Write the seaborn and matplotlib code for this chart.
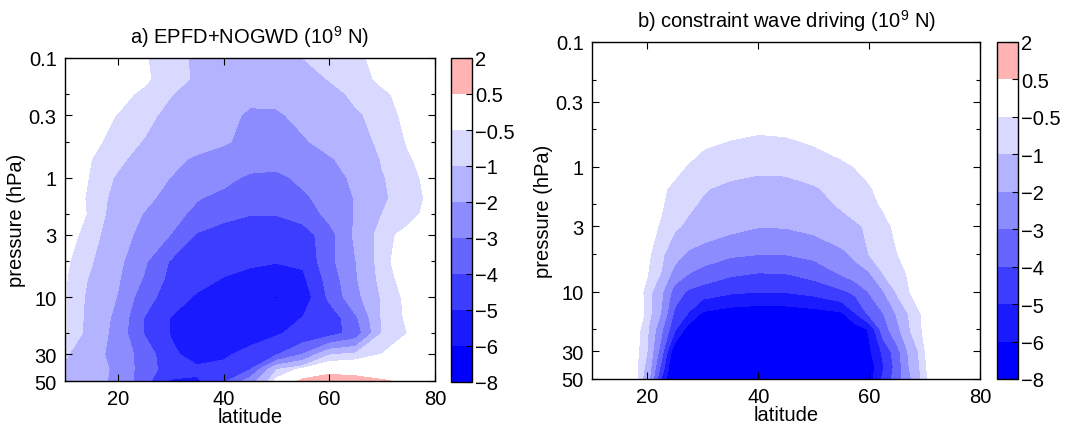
import numpy as np
import matplotlib
matplotlib.use("Agg")
import matplotlib.pyplot as plt
import seaborn as sns
from matplotlib.colors import ListedColormap, BoundaryNorm
from matplotlib.ticker import FixedLocator, FixedFormatter, NullFormatter

# ---------------- data ----------------
PRESSURE = [0.1, 0.15, 0.2, 0.3, 0.5, 0.7, 1, 1.5, 2, 3, 5, 7, 10, 15, 20, 30, 40, 50]

LAT_A = [10, 15, 20, 25, 30, 35, 40, 45, 50, 55, 60, 65, 70, 75, 80]
EPFD_NOGWD = [
    [0.00, -0.10, -0.25, -0.45, -0.80, -1.10, -1.35, -1.45, -1.30, -1.00, -0.85, -0.60, -0.35, -0.15, -0.05],
    [0.00, -0.10, -0.25, -0.42, -0.75, -1.10, -1.40, -1.60, -1.55, -1.30, -0.97, -0.70, -0.40, -0.20, -0.05],
    [-0.05, -0.15, -0.35, -0.60, -0.97, -1.30, -1.65, -1.85, -1.80, -1.60, -1.25, -0.85, -0.60, -0.30, -0.10],
    [-0.10, -0.30, -0.52, -0.80, -1.20, -1.50, -1.80, -2.10, -2.10, -1.80, -1.50, -1.10, -0.75, -0.35, -0.15],
    [-0.20, -0.40, -0.65, -1.05, -1.40, -1.65, -1.90, -2.25, -2.40, -2.10, -1.70, -1.30, -0.85, -0.45, -0.20],
    [-0.30, -0.50, -0.85, -1.30, -1.75, -2.15, -2.40, -2.60, -2.70, -2.50, -2.10, -1.60, -0.95, -0.55, -0.25],
    [-0.35, -0.52, -1.10, -1.55, -2.02, -2.40, -2.75, -3.15, -3.20, -2.80, -2.30, -1.85, -1.05, -0.65, -0.30],
    [-0.35, -0.55, -1.30, -1.80, -2.30, -2.95, -3.30, -3.55, -3.60, -3.20, -2.60, -1.95, -1.10, -0.70, -0.35],
    [-0.30, -0.55, -1.40, -2.05, -2.65, -3.25, -3.70, -3.95, -3.95, -3.60, -2.70, -1.95, -1.00, -0.65, -0.30],
    [-0.30, -0.70, -1.60, -2.30, -3.02, -4.10, -4.50, -4.70, -4.70, -4.50, -3.40, -1.80, -0.65, -0.35, -0.20],
    [-0.40, -0.95, -1.75, -2.85, -4.10, -4.50, -4.70, -4.85, -4.95, -4.85, -3.30, -2.02, -0.60, -0.30, -0.20],
    [-0.45, -1.10, -1.90, -3.10, -4.30, -4.65, -5.05, -5.30, -5.50, -5.20, -3.60, -2.10, -0.70, -0.30, -0.20],
    [-0.45, -1.20, -2.05, -3.60, -4.50, -5.15, -5.50, -5.80, -6.03, -5.60, -3.80, -2.30, -0.90, -0.35, -0.20],
    [-0.45, -1.25, -2.30, -4.05, -5.05, -5.50, -5.70, -5.75, -5.60, -4.95, -4.70, -3.20, -0.90, -0.40, -0.20],
    [-0.45, -1.30, -2.40, -4.05, -5.05, -5.60, -5.70, -5.50, -5.10, -4.70, -4.40, -3.60, -0.95, -0.48, -0.30],
    [-0.90, -1.60, -2.40, -3.40, -4.80, -5.40, -5.20, -4.60, -4.10, -2.95, -1.05, -0.80, -0.48, -0.30, -0.20],
    [-1.20, -1.60, -2.20, -3.50, -4.50, -4.80, -4.60, -4.05, -1.05, -0.30, 0.20, 0.10, -0.10, -0.15, -0.10],
    [-1.30, -1.70, -2.20, -3.60, -5.10, -5.15, -4.30, -2.50, -0.30, 0.70, 0.95, 0.85, 0.60, 0.30, 0.10],
]

LAT_B = [10, 15, 17.5, 20, 22.5, 25, 27.5, 30, 35, 40, 45, 50, 55, 57.5, 60, 62.5, 65, 67.5, 70, 72.5, 75, 80]
CONSTRAINT = [
    [0] * 22,
    [0] * 22,
    [0] * 22,
    [0] * 22,
    [0, 0, 0, 0, 0, -0.05, -0.10, -0.15, -0.38, -0.45, -0.43, -0.35, -0.15, -0.10, -0.05, 0, 0, 0, 0, 0, 0, 0],
    [0, 0, 0, -0.05, -0.10, -0.20, -0.35, -0.48, -0.60, -0.65, -0.62, -0.52, -0.35, -0.25, -0.15, -0.05, 0, 0, 0, 0, 0, 0],
    [0, -0.02, -0.05, -0.10, -0.20, -0.38, -0.55, -0.65, -0.80, -0.88, -0.87, -0.80, -0.62, -0.49, -0.38, -0.25, -0.12, -0.05, 0, 0, 0, 0],
    [0, 0, -0.08, -0.20, -0.42, -0.62, -0.80, -0.95, -1.15, -1.25, -1.22, -1.05, -0.85, -0.70, -0.55, -0.35, -0.20, -0.10, -0.05, 0, 0, 0],
    [0, -0.02, -0.10, -0.28, -0.46, -0.70, -0.90, -1.08, -1.35, -1.50, -1.48, -1.30, -0.90, -0.75, -0.62, -0.45, -0.25, -0.12, -0.05, 0, 0, 0],
    [0, -0.05, -0.15, -0.35, -0.55, -0.90, -1.15, -1.40, -1.75, -1.97, -1.95, -1.75, -1.35, -1.10, -0.90, -0.65, -0.40, -0.20, -0.08, -0.02, 0, 0],
    [0, -0.08, -0.20, -0.40, -0.85, -1.60, -2.20, -2.50, -2.85, -2.98, -2.97, -2.75, -2.25, -1.80, -0.98, -0.78, -0.52, -0.30, -0.12, -0.04, 0, 0],
    [0, -0.10, -0.25, -0.48, -1.02, -2.40, -2.95, -3.30, -3.80, -3.98, -3.95, -3.60, -2.85, -2.40, -2.05, -0.95, -0.70, -0.40, -0.18, -0.05, 0, 0],
    [0, -0.10, -0.30, -0.60, -1.80, -3.50, -4.20, -4.50, -4.85, -4.98, -4.95, -4.70, -4.20, -3.80, -2.95, -2.10, -0.90, -0.48, -0.25, -0.08, 0, 0],
    [0, -0.12, -0.20, -0.60, -2.10, -4.30, -5.10, -6.20, -6.60, -6.75, -6.70, -6.50, -6.20, -5.05, -3.80, -3.05, -1.90, -0.80, -0.40, -0.15, -0.05, 0],
    [0, -0.10, -0.15, -0.90, -2.80, -4.90, -6.60, -7.10, -7.40, -7.50, -7.45, -7.30, -7.00, -6.60, -5.90, -3.50, -2.30, -0.95, -0.40, -0.15, -0.05, 0],
    [0, -0.05, -0.20, -1.02, -3.50, -7.00, -7.60, -7.80, -7.90, -7.90, -7.90, -7.90, -7.80, -7.50, -6.20, -4.80, -3.40, -1.60, -0.52, -0.20, -0.05, 0],
    [0, -0.05, -0.25, -1.20, -4.30, -7.50, -7.80, -7.90, -7.90, -7.90, -7.90, -7.90, -7.90, -7.60, -6.60, -5.10, -3.60, -1.80, -0.55, -0.20, -0.05, 0],
    [0, -0.05, -0.10, -1.50, -5.02, -7.70, -7.90, -7.90, -7.90, -7.90, -7.90, -7.90, -7.90, -7.70, -6.50, -4.80, -3.50, -2.10, -0.60, -0.20, -0.05, 0],
]

LEVELS = [-8, -6, -5, -4, -3, -2, -1, -0.5, 0.5, 2]
LEVEL_LABELS = ["\u22128", "\u22126", "\u22125", "\u22124", "\u22123", "\u22122", "\u22121", "\u22120.5", "0.5", "2"]
COLORS = ["#0000FF", "#1A1AFF", "#3D3DFF", "#6666FF", "#8C8CFF", "#B3B3FF", "#D9D9FF", "#FFFFFF", "#FFB3B3"]

P_TICKS = [0.1, 0.3, 1, 3, 10, 30, 50]
P_TICK_LABELS = ["0.1", "0.3", "1", "3", "10", "30", "50"]
P_MINOR = [0.2, 0.5, 2, 5, 20]
LAT_TICKS = [20, 40, 60, 80]

TITLE_A = "a) EPFD+NOGWD (10$^{9}$ N)"
TITLE_B = "b) constraint wave driving (10$^{9}$ N)"

# ---------------- style ----------------
sns.set_theme(style="white")
plt.rcParams.update({
    "font.family": ["Liberation Sans", "DejaVu Sans"],
    "mathtext.fontset": "custom",
    "mathtext.rm": "Liberation Sans",
    "mathtext.it": "Liberation Sans:italic",
    "mathtext.bf": "Liberation Sans:bold",
    "axes.edgecolor": "black",
    "axes.linewidth": 1.0,
    "axes.axisbelow": False,
    "text.color": "black",
    "axes.labelcolor": "black",
    "xtick.color": "black",
    "ytick.color": "black",
    "xtick.bottom": True,
    "ytick.left": True,
})

FS = 14.5

fig = plt.figure(figsize=(10.66, 4.27), dpi=100)
W, H = 1066, 427


def box(x0, y0, x1, y1):
    return [x0 / W, (H - y1) / H, (x1 - x0) / W, (y1 - y0) / H]


ax_a = fig.add_axes(box(65, 59, 435, 382))
cax_a = fig.add_axes(box(451, 59, 472, 383))
ax_b = fig.add_axes(box(592, 43, 980, 380))
cax_b = fig.add_axes(box(997, 43, 1018, 380))


def panel(ax, cax, lat, data, title):
    cmap = ListedColormap(COLORS)
    norm = BoundaryNorm(LEVELS, cmap.N)
    cs = ax.contourf(lat, PRESSURE, np.array(data, dtype=float), levels=LEVELS,
                     cmap=cmap, norm=norm)
    ax.set_axisbelow(False)
    ax.set_yscale("log")
    ax.set_ylim(50, 0.1)
    ax.set_xlim(10, 80)
    ax.yaxis.set_major_locator(FixedLocator(P_TICKS))
    ax.yaxis.set_major_formatter(FixedFormatter(P_TICK_LABELS))
    ax.yaxis.set_minor_locator(FixedLocator(P_MINOR))
    ax.yaxis.set_minor_formatter(NullFormatter())
    ax.set_xticks(LAT_TICKS)
    ax.set_xticklabels([str(t) for t in LAT_TICKS])
    ax.tick_params(which="both", direction="in", top=True, right=True,
                   bottom=True, left=True, labelsize=FS, width=0.8)
    ax.tick_params(axis="x", pad=6)
    ax.tick_params(axis="y", pad=6)
    ax.tick_params(which="major", length=5)
    ax.tick_params(which="minor", length=3)
    ax.set_xlabel("latitude", fontsize=FS, labelpad=-1)
    ax.set_ylabel("pressure (hPa)", fontsize=FS, labelpad=2)
    ax.set_title(title, fontsize=FS, pad=11)
    for s in ax.spines.values():
        s.set_visible(True)
        s.set_color("black")
        s.set_linewidth(1.0)

    cb = fig.colorbar(cs, cax=cax, spacing="uniform")
    cax.set_axisbelow(False)
    cb.set_ticks(LEVELS, labels=LEVEL_LABELS)
    cb.ax.tick_params(direction="in", length=4, width=0.8, labelsize=FS, pad=2,
                      right=True, left=False)
    cb.ax.minorticks_off()
    cb.outline.set_edgecolor("black")
    cb.outline.set_linewidth(1.0)
    return cs


panel(ax_a, cax_a, LAT_A, EPFD_NOGWD, TITLE_A)
panel(ax_b, cax_b, LAT_B, CONSTRAINT, TITLE_B)

fig.savefig("out.png", dpi=100)
